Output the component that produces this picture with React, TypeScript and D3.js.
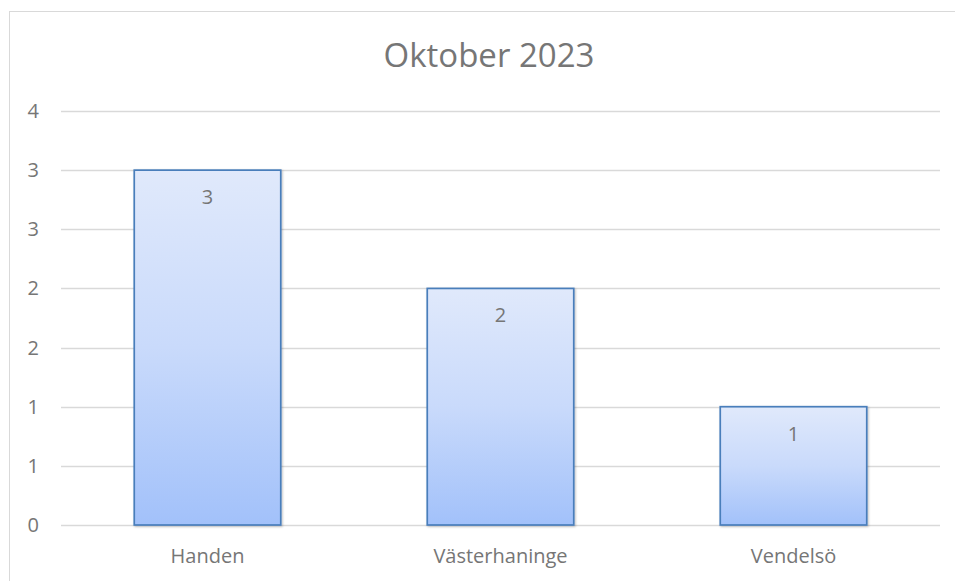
import React from "react";
import * as d3 from "d3";

const categories = ["Handen", "Västerhaninge", "Vendelsö"];
const values = [3, 2, 1];
const tickValues = [0, 0.5, 1, 1.5, 2, 2.5, 3, 3.5];
const tickLabels = ["0", "1", "1", "2", "2", "3", "3", "4"];
const title = "Oktober 2023";

export default function App() {
  const W = 955, H = 581;
  const left = 61, right = 940, top = 111, bottom = 525;
  const x = d3.scaleBand().domain(categories).range([left, right]).paddingInner(0.5).paddingOuter(0.25);
  const y = d3.scaleLinear().domain([0, 3.5]).range([bottom, top]);
  const font = "'Open Sans', Lato, sans-serif";
  const gray = "#767676";
  return (
    <svg width={W} height={H} style={{ position: "absolute", left: 0, top: 0 }}>
      <defs>
        <linearGradient id="barGrad" x1="0" y1="0" x2="0" y2="1">
          <stop offset="0%" stopColor="#e0e9fb" />
          <stop offset="50%" stopColor="#c9dafb" />
          <stop offset="100%" stopColor="#a2c1fa" />
        </linearGradient>
        <filter id="shadow" x="-10%" y="-10%" width="120%" height="120%">
          <feDropShadow dx="1" dy="1" stdDeviation="1.2" floodColor="#000" floodOpacity="0.25" />
        </filter>
      </defs>
      <rect x={0} y={0} width={W} height={H} fill="#fff" />
      <rect x={9.5} y={11.5} width={W + 20} height={H + 20} fill="#fff" stroke="#d9d9d9" strokeWidth={1} />
      <text x={489} y={55} dy="0.35em" textAnchor="middle" fontFamily={font} fontSize={33} fill={gray}>{title}</text>
      {tickValues.map((t, i) => (
        <g key={i}>
          <line x1={left} x2={right} y1={Math.round(y(t)) + 0.5} y2={Math.round(y(t)) + 0.5} stroke="#d9d9d9" strokeWidth={1.3} />
          <text x={39} y={y(t)} dy="0.35em" textAnchor="end" fontFamily={font} fontSize={20} fill={gray}>{tickLabels[i]}</text>
        </g>
      ))}
      {categories.map((c, i) => (
        <g key={c}>
          <rect x={x(c)!} y={y(values[i])} width={x.bandwidth()} height={y(0) - y(values[i])}
            fill="url(#barGrad)" stroke="#4a7ebb" strokeWidth={1.7} filter="url(#shadow)" />
          <text x={x(c)! + x.bandwidth() / 2} y={y(values[i]) + 27} dy="0.35em" textAnchor="middle" fontFamily={font} fontSize={20} fill={gray}>{values[i]}</text>
          <text x={x(c)! + x.bandwidth() / 2} y={556} dy="0.35em" textAnchor="middle" fontFamily={font} fontSize={20} fill={gray}>{c}</text>
        </g>
      ))}
    </svg>
  );
}
